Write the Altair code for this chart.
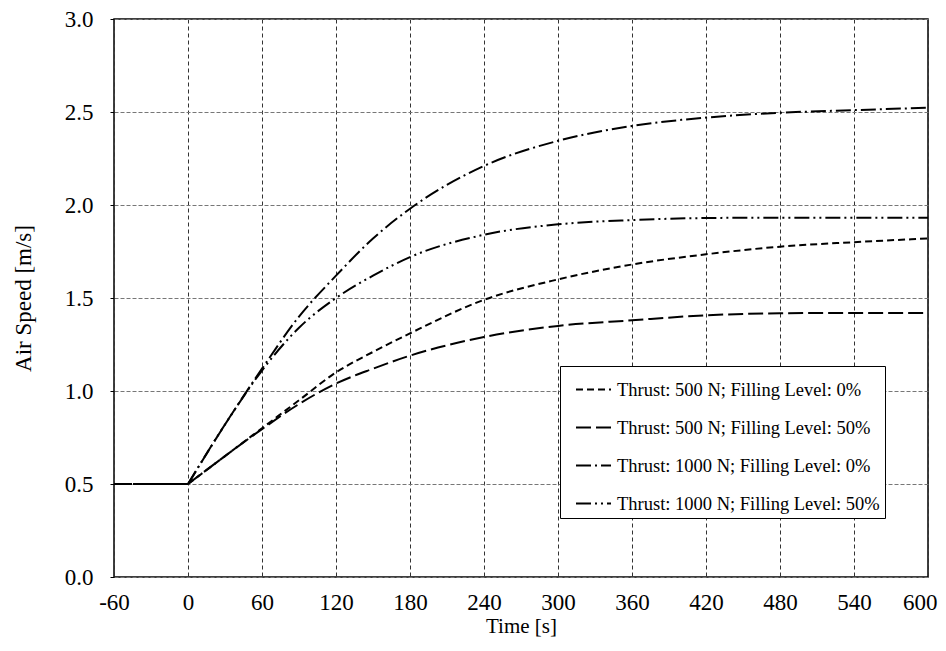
import altair as alt
import pandas as pd

times = [-60, 0, 30, 60, 90, 120, 150, 180, 240, 300, 360, 420, 480, 540, 600]
s500_0 = [0.5, 0.5, 0.65, 0.80, 0.95, 1.10, 1.21, 1.31, 1.49, 1.60, 1.68, 1.735, 1.776, 1.80, 1.82]
s500_50 = [0.5, 0.5, 0.65, 0.795, 0.93, 1.04, 1.12, 1.19, 1.29, 1.35, 1.38, 1.407, 1.418, 1.42, 1.42]
s1000_0 = [0.5, 0.5, 0.82, 1.12, 1.40, 1.62, 1.82, 1.98, 2.21, 2.345, 2.425, 2.47, 2.496, 2.51, 2.523]
s1000_50 = [0.5, 0.5, 0.82, 1.11, 1.34, 1.50, 1.62, 1.72, 1.84, 1.896, 1.919, 1.93, 1.932, 1.932, 1.932]

series_names = [
    "Thrust: 500 N; Filling Level: 0%",
    "Thrust: 500 N; Filling Level: 50%",
    "Thrust: 1000 N; Filling Level: 0%",
    "Thrust: 1000 N; Filling Level: 50%",
]
series_values = [s500_0, s500_50, s1000_0, s1000_50]
x_ticks = [-60, 0, 60, 120, 180, 240, 300, 360, 420, 480, 540, 600]
y_ticks = [0.0, 0.5, 1.0, 1.5, 2.0, 2.5, 3.0]

rows = []
for name, vals in zip(series_names, series_values):
    for t, v in zip(times, vals):
        # split the constant pre-phase from the response so the kink at t=0 stays sharp
        if t <= 0:
            rows.append({"Time": t, "Speed": v, "Series": name, "Part": "pre"})
        if t >= 0:
            rows.append({"Time": t, "Speed": v, "Series": name, "Part": "post"})
df = pd.DataFrame(rows)

FONT = "Liberation Serif"

chart = (
    alt.Chart(df)
    .mark_line(color="black", strokeWidth=2, interpolate="monotone")
    .encode(
        x=alt.X(
            "Time:Q",
            scale=alt.Scale(domain=[-60, 600], nice=False, zero=False),
            axis=alt.Axis(
                title="Time [s]",
                values=x_ticks,
                labelExpr="'' + datum.value",
                labelFlush=False,
                labelOverlap=False,
                labelAlign={"condition": {"test": "datum.value == 600", "value": "right"}, "value": "center"},
                labelOffset={"condition": {"test": "datum.value == 600", "value": 9}, "value": 0},
                grid=True,
                gridColor="#333333",
                gridDash=[4, 3],
                gridWidth=1,
                ticks=False,
                domain=False,
                labelPadding=14,
                titlePadding=1,
                titleFontSize=21,
            ),
        ),
        y=alt.Y(
            "Speed:Q",
            scale=alt.Scale(domain=[0, 3], nice=False),
            axis=alt.Axis(
                title="Air Speed [m/s]",
                values=y_ticks,
                format=".1f",
                labelFlush=False,
                grid=True,
                gridColor="#777777",
                gridDash=[4, 2],
                gridWidth=1,
                ticks=True,
                tickSize=4,
                tickColor="black",
                domain=False,
                labelPadding=17,
                titlePadding=29,
                titleFontSize=23,
            ),
        ),
        strokeDash=alt.StrokeDash(
            "Series:N",
            scale=alt.Scale(
                domain=series_names,
                range=[[7, 4], [15, 5], [15, 4, 2, 4], [15, 4, 2, 4, 2, 4]],
            ),
            legend=alt.Legend(
                title=None,
                orient="none",
                legendX=446,
                legendY=347,
                padding=5,
                rowPadding=10,
                symbolOffset=10,
                strokeColor="black",
                fillColor="white",
                symbolType="stroke",
                symbolStrokeColor="black",
                symbolStrokeWidth=2,
                symbolSize=1225,
                labelOffset=5,
                labelLimit=400,
                labelFontSize=18.5,
                labelFont=FONT,
                labelColor="black",
            ),
        ),
        detail="Part:N",
    )
    .properties(
        width=814,
        height=558,
        padding={"left": 106, "top": 11, "right": 10, "bottom": 70},
        autosize=alt.AutoSizeParams(type="none"),
    )
    .configure_view(stroke="black", strokeWidth=1.5)
    .configure_axis(
        labelFont=FONT,
        titleFont=FONT,
        labelFontSize=23,
        titleFontWeight="normal",
        labelColor="black",
        titleColor="black",
    )
)

chart.save("out.html", embed_options={"renderer": "svg", "actions": False})
